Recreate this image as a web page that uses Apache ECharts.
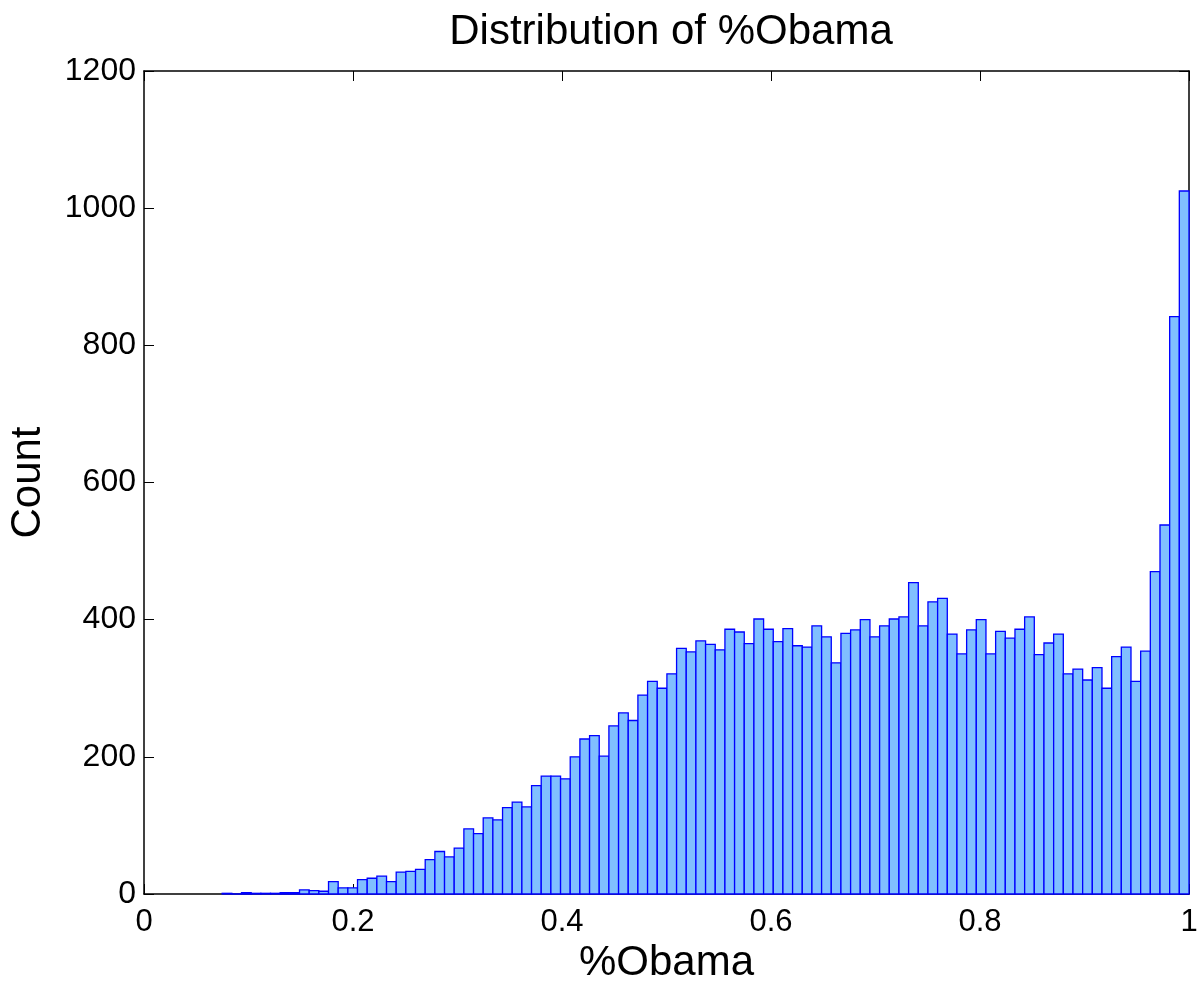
<!DOCTYPE html>
<html>
<head>
<meta charset="utf-8">
<title>Distribution of %Obama</title>
<script src="https://cdn.jsdelivr.net/npm/echarts@6/dist/echarts.min.js"></script>
<style>
  html, body { margin: 0; padding: 0; background: #fff; }
  #chart { width: 1199px; height: 982px; }
</style>
</head>
<body>
<div id="chart"></div>
<script>
// histogram of %Obama, 100 bins between the smallest value and 1
var binStart = 0.0748;
var binEnd = 1;
var counts = [
    1, 0, 2, 1, 1, 1, 2, 2, 6, 5,
    4, 18, 9, 9, 21, 23, 26, 18, 32, 33,
    36, 50, 62, 54, 67, 95, 88, 111, 108, 126,
    134, 127, 158, 172, 172, 168, 200, 226, 231, 201,
    245, 264, 253, 290, 310, 300, 321, 358, 353, 369,
    364, 356, 386, 382, 365, 401, 386, 368, 387, 362,
    360, 391, 375, 337, 380, 385, 400, 375, 391, 401,
    404, 454, 391, 426, 431, 379, 350, 385, 400, 350,
    383, 373, 386, 404, 349, 366, 379, 321, 328, 312,
    330, 300, 346, 360, 310, 354, 470, 538, 842, 1025
];
var xTicks = [0, 0.2, 0.4, 0.6, 0.8, 1];
var yTicks = [0, 200, 400, 600, 800, 1000, 1200];

var binWidth = (binEnd - binStart) / counts.length;
var bins = counts.map(function (c, i) {
    return [binStart + i * binWidth, binStart + (i + 1) * binWidth, c];
});

var font = "'Liberation Sans', Arial, Helvetica, sans-serif";
var chart = echarts.init(document.getElementById('chart'));

// matlab style box: black frame on four sides, ticks pointing in
function frameLine() {
    return { show: true, onZero: false, lineStyle: { color: '#000', width: 1.5 } };
}
function innerTick() {
    return { show: true, inside: true, length: 10, lineStyle: { color: '#000', width: 1 } };
}
function plain(v) { return String(v); }

chart.setOption({
    animation: false,
    title: {
        text: 'Distribution of %Obama',
        left: 666,
        top: 6,
        textAlign: 'center',
        textStyle: { fontFamily: font, fontSize: 42, fontWeight: 'normal', color: '#000' }
    },
    grid: { left: 144, right: 10, top: 71, bottom: 88, containLabel: false, outerBoundsMode: 'none' },
    xAxis: [{
        type: 'value',
        min: xTicks[0],
        max: xTicks[xTicks.length - 1],
        interval: 0.2,
        name: '%Obama',
        nameLocation: 'middle',
        nameGap: 33,
        nameTextStyle: { fontFamily: font, fontSize: 42, color: '#000' },
        axisLine: frameLine(),
        axisTick: innerTick(),
        axisLabel: { fontFamily: font, fontSize: 31, color: '#000', margin: 13, formatter: plain },
        splitLine: { show: false }
    }, {
        type: 'value',
        position: 'top',
        min: xTicks[0],
        max: xTicks[xTicks.length - 1],
        interval: 0.2,
        axisLine: frameLine(),
        axisTick: innerTick(),
        axisLabel: { show: false },
        splitLine: { show: false }
    }],
    yAxis: [{
        type: 'value',
        min: yTicks[0],
        max: yTicks[yTicks.length - 1],
        interval: 200,
        name: 'Count',
        nameLocation: 'middle',
        nameGap: 95,
        nameTextStyle: { fontFamily: font, fontSize: 42, color: '#000' },
        axisLine: frameLine(),
        axisTick: innerTick(),
        axisLabel: { fontFamily: font, fontSize: 32, color: '#000', margin: 8, formatter: plain },
        splitLine: { show: false }
    }, {
        type: 'value',
        position: 'right',
        min: yTicks[0],
        max: yTicks[yTicks.length - 1],
        interval: 200,
        axisLine: frameLine(),
        axisTick: innerTick(),
        axisLabel: { show: false },
        splitLine: { show: false }
    }],
    series: [{
        type: 'custom',
        xAxisIndex: 0,
        yAxisIndex: 0,
        data: bins,
        encode: { x: [0, 1], y: 2 },
        renderItem: function (params, api) {
            var lo = api.coord([api.value(0), 0]);
            var hi = api.coord([api.value(1), api.value(2)]);
            return {
                type: 'rect',
                shape: { x: lo[0], y: hi[1], width: hi[0] - lo[0], height: lo[1] - hi[1] },
                style: { fill: '#80BFFF', stroke: '#0000FF', lineWidth: 1.3 }
            };
        }
    }]
});
</script>
</body>
</html>
